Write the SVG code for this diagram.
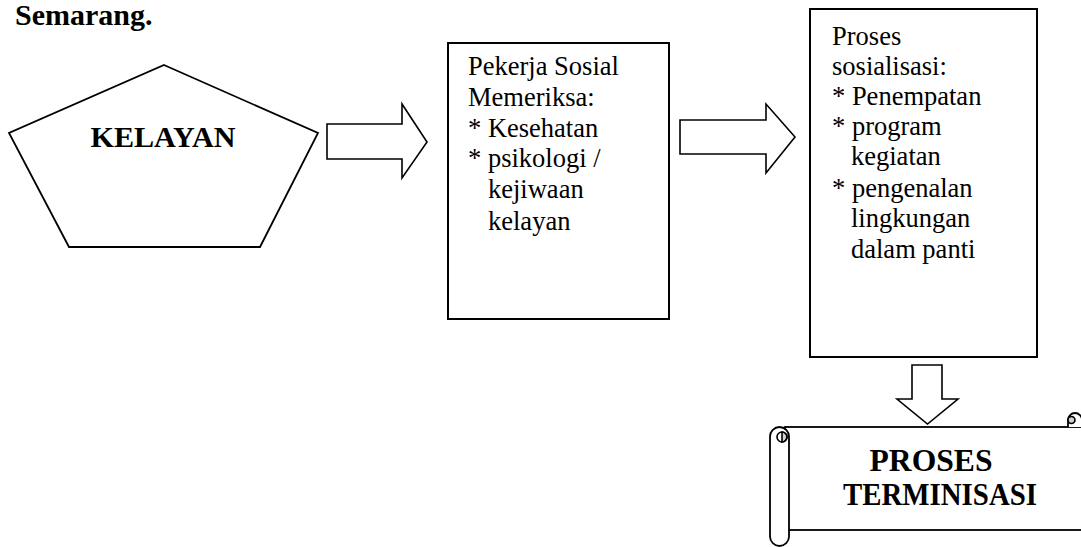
<svg xmlns="http://www.w3.org/2000/svg" width="1081" height="547" viewBox="0 0 1081 547">
<style>
.shape{fill:#fff;stroke:#000;stroke-width:1.8;stroke-linejoin:miter}
.box{fill:#fff;stroke:#000;stroke-width:2}
.arrow{fill:#fff;stroke:#000;stroke-width:1.6;stroke-linejoin:miter}
.t{font-size:26.5px;fill:#000}
.b{font-weight:bold;fill:#000}
.curl{fill:#d0d0d0;stroke:#000;stroke-width:1.6}
</style>
<rect width="1081" height="547" fill="#fff"/>
<g font-family="'Liberation Serif', 'Times New Roman', serif">
<text class="b" x="15" y="25" font-size="30">Semarang.</text>
<g id="connectors">
<path class="arrow" d="M327 124 H402 V104 L427 142 L402 178 V159 H327 Z"/>
<path class="arrow" d="M680 120 H766 V104 L795 137 L766 173 V154 H680 Z"/>
<path class="arrow" d="M912 365 H942 V399 H958 L927.5 424 L897 399 H912 Z"/>
</g>
<g id="kelayan">
<polygon class="shape" points="164,65 318,133 260,247 69,247 9,133"/>
<text class="b" x="163" y="147" font-size="29" text-anchor="middle" textLength="145" lengthAdjust="spacingAndGlyphs">KELAYAN</text>
</g>
<g id="pekerja-sosial">
<rect class="box" x="448" y="43" width="221" height="276"/>
<text class="t" x="468" y="75">Pekerja Sosial</text>
<text class="t" x="468" y="106">Memeriksa:</text>
<text class="t" x="468" y="137">* Kesehatan</text>
<text class="t" x="468" y="167">* psikologi /</text>
<text class="t" x="488" y="198">kejiwaan</text>
<text class="t" x="488" y="230">kelayan</text>
</g>
<g id="proses-sosialisasi">
<rect class="box" x="810" y="9" width="227" height="348"/>
<text class="t" x="832" y="45">Proses</text>
<text class="t" x="832" y="75">sosialisasi:</text>
<text class="t" x="832" y="105">* Penempatan</text>
<text class="t" x="832" y="135">* program</text>
<text class="t" x="851" y="165">kegiatan</text>
<text class="t" x="832" y="197">* pengenalan</text>
<text class="t" x="851" y="227">lingkungan</text>
<text class="t" x="851" y="258">dalam panti</text>
</g>
<g id="proses-terminisasi">
<rect class="shape" x="785" y="427" width="310" height="103"/>
<path class="shape" d="M1068 427 V420 A7 7 0 0 1 1082 420 V427"/>
<path class="curl" d="M1068 420 A3.5 3.5 0 0 0 1075 420 A3.5 3.5 0 0 0 1068 420 Z"/>
<rect class="shape" x="770" y="427" width="19" height="119" rx="9.5" ry="9.5"/>
<path class="curl" d="M782 432 A5 5 0 0 1 782 442 Z"/>
<circle cx="782" cy="437" r="5" fill="none" stroke="#000" stroke-width="1.6"/>
<text class="b" x="931" y="471" font-size="32" text-anchor="middle" textLength="123" lengthAdjust="spacingAndGlyphs">PROSES</text>
<text class="b" x="940" y="505" font-size="32" text-anchor="middle" textLength="194" lengthAdjust="spacingAndGlyphs">TERMINISASI</text>
</g>
</g>
</svg>
